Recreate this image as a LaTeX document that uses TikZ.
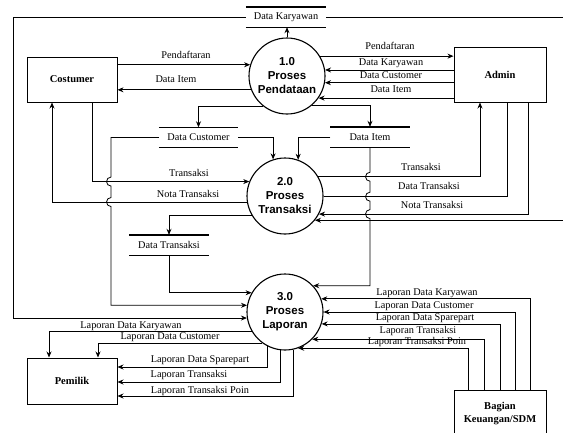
\documentclass[tikz,border=0pt]{standalone}
\usepackage{fontspec}
\setmainfont{Liberation Serif}
\newfontfamily\procfont{Liberation Sans}
\usetikzlibrary{arrows.meta,calc}
\begin{document}
\begin{tikzpicture}[x=1pt,y=-1pt,
  ln/.style={line width=0.8pt},
  arr/.style={ln,-{Stealth[length=6pt,width=5pt]}},
  proc/.style={circle,draw,line width=1.1pt,minimum size=76pt,inner sep=0pt,align=center,font=\procfont\bfseries\fontsize{11.5}{14}\selectfont},
  ent/.style={rectangle,draw,line width=1pt,align=center,font=\bfseries\fontsize{10.5}{13}\selectfont,inner sep=0pt},
  store/.style={rectangle,minimum width=79pt,minimum height=20pt,inner sep=0pt,font=\fontsize{10.3}{12}\selectfont},
  stl/.style={line width=1.4pt},
  lbl/.style={font=\fontsize{10.3}{12}\selectfont,inner sep=0pt,text height=7pt,text depth=2pt}]
\useasboundingbox (0,0) rectangle (563,432);
\clip (0,0) rectangle (563,432);

% processes
\node[proc] (c1) at (287,76) {1.0\\Proses\\Pendataan};
\node[proc] (c2) at (285,196) {2.0\\Proses\\Transaksi};
\node[proc] (c3) at (285,312) {3.0\\Proses\\Laporan};

% entities
\node[ent,minimum width=90pt,minimum height=45pt] (cost) at (72,79.5) {Costumer};
\node[ent,minimum width=92pt,minimum height=55pt] (admin) at (500,74.5) {Admin};
\node[ent,minimum width=90pt,minimum height=46pt] (pem) at (72,381) {Pemilik};
\node[ent,minimum width=92pt,minimum height=47pt] (bag) at (500,413.5) {Bagian\\Keuangan/SDM};

% stores
\node[store,minimum width=80pt] (dkar) at (286,17) {Data Karyawan};
\node[store] (dcust) at (198.5,137.5) {Data Customer};
\node[store] (ditem) at (370,137) {Data Item};
\node[store] (dtrans) at (169,245) {Data Transaksi};
\foreach \s in {dkar,dcust,ditem,dtrans}{
  \draw[stl] (\s.north west) -- (\s.north east) (\s.south west) -- (\s.south east);
}

\coordinate (kl) at (13,0);
\coordinate (re) at (563,0);

% 1.0 connections
\draw[arr] (cost.east |- c1.163.2) -- (c1.163.2);
\draw[arr] (c1.201.6) -- (c1.201.6 -| cost.east);
\draw[arr] (c1.31.8) -- (c1.31.8 -| admin.west);
\draw[arr] (admin.west |- c1.9.1) -- (c1.9.1);
\draw[arr] (admin.west |- c1.-10.6) -- (c1.-10.6);
\draw[arr] (admin.west |- c1.-35.4) -- (c1.-35.4);
\draw[arr] (c1.north) -- (c1.north |- dkar.south);
\draw[arr] (c1.232.1) -| (dcust.north);
\draw[arr] (c1.-49.7) -| (ditem.north);

% Data Karyawan
\draw[arr] (dkar.west) -| (kl |- c3.189.1) -- (c3.189.1);
\draw[ln] (dkar.east) -- (dkar.east -| re);
\draw[arr] (re |- c2.-39.2) -- (c2.-39.2);

% 2.0 connections
\draw[arr] (dcust.east) -| (c2.108.4);
\draw[arr] (ditem.west) -| (c2.70);
\draw[arr] ([xshift=20pt]cost.south) |- (c2.158.4);
\draw[arr] (c2.189.1) -| ([xshift=-20pt]cost.south);
\draw[arr] (c2.211.8) -| (dtrans.north);
\draw[arr] (c2.30) -| ([xshift=-20pt]admin.south);
\draw[ln] (c2.-1.5) -| ([xshift=7pt]admin.south);
\draw[arr] ([xshift=28pt]admin.south) |- (c2.-28.3);

% stores to 3.0 (with line jumps)
\coordinate (jx) at (111,0);
\draw[arr] (dcust.west) -| ($(jx |- c2.158.4)+(0,-4.5)$)
  arc[start angle=270,end angle=90,radius=4.5]
  -- ($(jx |- c2.189.1)+(0,-4.5)$)
  arc[start angle=270,end angle=90,radius=4.5]
  |- (c3.170.9);
\draw[arr] (ditem.south) -- ($(ditem.south |- c2.30)+(0,-4.5)$)
  arc[start angle=270,end angle=90,radius=4.5]
  -- ($(ditem.south |- c2.-1.5)+(0,-4.5)$)
  arc[start angle=270,end angle=90,radius=4.5]
  -- ($(ditem.south |- c2.-28.3)+(0,-4.5)$)
  arc[start angle=270,end angle=90,radius=4.5]
  |- (c3.43.2);
\draw[arr] (dtrans.south) |- (c3.150);

% 3.0 to Pemilik
\draw[arr] (c3.210) -| ([xshift=-23pt]pem.north);
\draw[arr] (c3.234.7) -| ([xshift=26pt]pem.north);
\draw[arr] (c3.-118.3) |- ([yshift=14pt]pem.east);
\draw[arr] (c3.-97.6) |- ([yshift=-1pt]pem.east);
\draw[arr] (c3.-77.8) |- ([yshift=-15pt]pem.east);

% Bagian to 3.0
\draw[arr] ([xshift=30pt]bag.north) |- (c3.20);
\draw[arr] ([xshift=15pt]bag.north) |- (c3.0);
\draw[arr] (bag.north) |- (c3.-18.4);
\draw[arr] ([xshift=-16pt]bag.north) |- (c3.-45.3);
\draw[arr] ([xshift=-32pt]bag.north) |- (c3.-70);

% labels
\node[lbl] (t1) at (186,56) {Pendaftaran};
\node[lbl] (t2) at (176,80) {Data Item};
\node[lbl] (t3) at (390,47) {Pendaftaran};
\node[lbl] (t4) at (391,63) {Data Karyawan};
\node[lbl] (t5) at (391,76) {Data Customer};
\node[lbl] (t6) at (391,90) {Data Item};
\node[lbl] (t7) at (189,174) {Transaksi};
\node[lbl] (t8) at (188,195) {Nota Transaksi};
\node[lbl] (t9) at (421,168) {Transaksi};
\node[lbl] (t10) at (429,187) {Data Transaksi};
\node[lbl] (t11) at (432,206) {Nota Transaksi};
\node[lbl] (t12) at (131,326) {Laporan Data Karyawan};
\node[lbl] (t13) at (170,337) {Laporan Data Customer};
\node[lbl] (t14) at (200,360) {Laporan Data Sparepart};
\node[lbl] (t15) at (189,375) {Laporan Transaksi};
\node[lbl] (t16) at (200,391) {Laporan Transaksi Poin};
\node[lbl] (t17) at (427,293) {Laporan Data Karyawan};
\node[lbl] (t18) at (424,306) {Laporan Data Customer};
\node[lbl] (t19) at (425,318) {Laporan Data Sparepart};
\node[lbl] (t20) at (418,331) {Laporan Transaksi};
\node[lbl] (t21) at (417,342) {Laporan Transaksi Poin};
\end{tikzpicture}
\end{document}
